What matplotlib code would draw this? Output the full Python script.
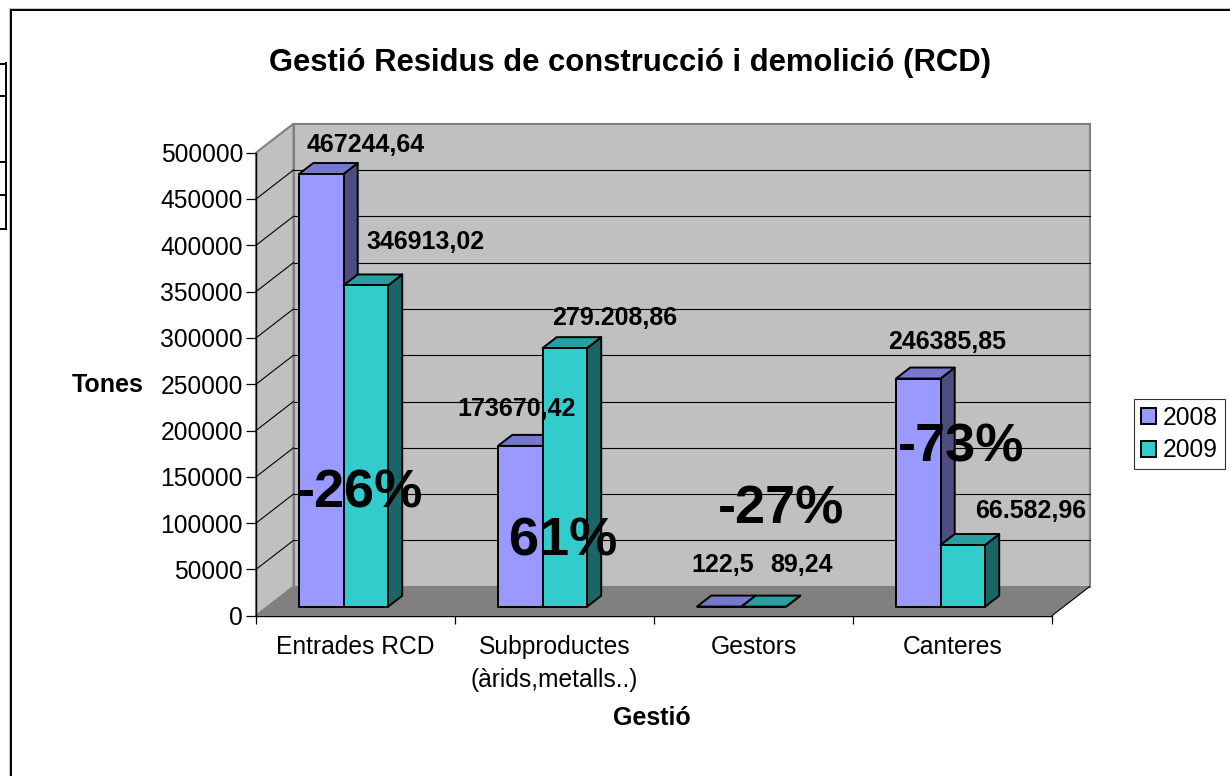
import matplotlib
matplotlib.use('Agg')
import matplotlib.pyplot as plt
from matplotlib.patches import Polygon, Patch
from matplotlib.lines import Line2D

plt.rcParams['font.family'] = ['Liberation Sans', 'DejaVu Sans']

# ---------------- data ----------------
categories = ['Entrades RCD', 'Subproductes\n(àrids,metalls..)', 'Gestors', 'Canteres']
series_names = ['2008', '2009']
values_2008 = [467244.64, 173670.42, 122.5, 246385.85]
values_2009 = [346913.02, 279208.86, 89.24, 66582.96]
labels_2008 = ['467244,64', '173670,42', '122,5', '246385,85']
labels_2009 = ['346913,02', '279.208,86', '89,24', '66.582,96']
change_labels = ['-26%', '61%', '-27%', '-73%']
y_ticks = [0, 50000, 100000, 150000, 200000, 250000, 300000, 350000, 400000, 450000, 500000]
title = 'Gestió Residus de construcció i demolició (RCD)'
y_title = 'Tones'
x_title = 'Gestió'

# ---------------- layout (pixels) ----------------
FW, FH = 1230, 776
AX_L, AX_R, AX_T, AX_B = 256, 1052, 152.7, 615.7
YMAX = 500000

fig = plt.figure(figsize=(FW / 100, FH / 100), dpi=100)
fig.patch.set_facecolor('white')
ax = fig.add_axes([AX_L / FW, (FH - AX_B) / FH, (AX_R - AX_L) / FW, (AX_B - AX_T) / FH])
ax.set_xlim(-0.5, len(categories) - 0.5)
ax.set_ylim(0, YMAX)
ax.patch.set_visible(False)

ux = (len(categories)) / (AX_R - AX_L)        # data x units per pixel
uy = YMAX / (AX_B - AX_T)                      # data y units per pixel
DX, DY = 37.5 * ux, 29 * uy                   # full depth offset
F0, F1 = 9 / 29, 20 / 29                      # bar depth range
W = 44.5 * ux
SHIFT = -12 * ux

x0, x1 = -0.5, len(categories) - 0.5
wall_c, floor_c, wall_edge = '#C0C0C0', '#808080', '#808080'

# back wall
ax.add_patch(Polygon([(x0 + DX, DY), (x1 + DX, DY), (x1 + DX, YMAX + DY), (x0 + DX, YMAX + DY)],
                     closed=True, facecolor=wall_c, edgecolor=wall_edge, lw=1.5, zorder=0, clip_on=False))
# side wall
ax.add_patch(Polygon([(x0, 0), (x0, YMAX), (x0 + DX, YMAX + DY), (x0 + DX, DY)],
                     closed=True, facecolor=wall_c, edgecolor=wall_edge, lw=1.5, zorder=0, clip_on=False))
# floor
ax.add_patch(Polygon([(x0, 0), (x1, 0), (x1 + DX, DY), (x0 + DX, DY)],
                     closed=True, facecolor=floor_c, edgecolor='none', zorder=0.5, clip_on=False))
ax.plot([x1, x1 + DX], [0, DY], color='black', lw=0.8, zorder=0.6, clip_on=False)

# gridlines
for v in y_ticks[1:-1]:
    ax.plot([x0 + DX, x1 + DX], [v + DY, v + DY], color='black', lw=0.8, zorder=1, clip_on=False)
    ax.plot([x0, x0 + DX], [v, v + DY], color='black', lw=0.8, zorder=1, clip_on=False)

# bars
styles = [
    dict(front='#9999FF', top='#7777CC', side='#4D4D80'),
    dict(front='#33CCCC', top='#289E9E', side='#1A6666'),
]
label_offsets = [
    [(44, 29), (-4, 37), (3, 42), (29, 37)],
    [(60, 43), (50, 30), (38, 42), (68, 34)],
]
all_values = [values_2008, values_2009]
all_labels = [labels_2008, labels_2009]
base = F0 * DY
ddx, ddy = (F1 - F0) * DX, (F1 - F0) * DY
z = 3
for i in range(len(categories)):
    for s in range(2):
        v = all_values[s][i]
        st = styles[s]
        xl = i + SHIFT - W + s * W
        xr = xl + W
        top = base + v
        ax.add_patch(Polygon([(xr, base), (xr, top), (xr + ddx, top + ddy), (xr + ddx, base + ddy)],
                             closed=True, facecolor=st['side'], edgecolor='black', lw=1.4,
                             joinstyle='round', zorder=z, clip_on=False))
        ax.add_patch(Polygon([(xl, top), (xr, top), (xr + ddx, top + ddy), (xl + ddx, top + ddy)],
                             closed=True, facecolor=st['top'], edgecolor='black', lw=1.4,
                             joinstyle='round', zorder=z, clip_on=False))
        ax.add_patch(Polygon([(xl, base), (xr, base), (xr, top), (xl, top)],
                             closed=True, facecolor=st['front'], edgecolor='black', lw=1.4,
                             joinstyle='round', zorder=z, clip_on=False))
        z += 1

for i in range(len(categories)):
    for s in range(2):
        v = all_values[s][i]
        xl = i + SHIFT - W + s * W
        ox, oy = label_offsets[s][i]
        ax.annotate(all_labels[s][i], xy=(xl + W / 2, base + v), xytext=(ox, oy),
                    textcoords='offset pixels', ha='center', va='center',
                    fontsize=18, fontweight='bold', color='black', zorder=20,
                    annotation_clip=False)

# percentage change labels
change_offsets = [(4.5, 122.7), (8.5, 73.7), (28, 105.7), (9, 168.7)]
for i, txt in enumerate(change_labels):
    ox, oy = change_offsets[i]
    ax.annotate(txt, xy=(i, 0), xytext=(ox, oy), textcoords='offset pixels',
                ha='center', va='center', fontsize=39, fontweight='bold', color='black',
                zorder=25, annotation_clip=False)

# axes styling
for sp in ['top', 'right']:
    ax.spines[sp].set_visible(False)
for sp in ['left', 'bottom']:
    ax.spines[sp].set_color('black')
    ax.spines[sp].set_linewidth(1.0)
    ax.spines[sp].set_zorder(2)
ax.set_yticks(y_ticks)
ax.set_yticklabels([str(t) for t in y_ticks])
ax.tick_params(axis='y', direction='out', length=7.2, width=0.9, pad=2.2, labelsize=17.7, colors='black')
ax.set_xticks(range(len(categories)))
ax.set_xticklabels(categories, linespacing=1.45)
ax.set_xticks([k - 0.5 for k in range(len(categories) + 1)], minor=True)
ax.tick_params(axis='x', which='major', length=0, pad=14, labelsize=17.7)
ax.tick_params(axis='x', which='minor', direction='out', length=6, width=0.9)

# titles
fig.text(630 / FW, 1 - 71 / FH, title, ha='center', va='baseline', fontsize=22.3, fontweight='bold')
fig.text(108 / FW, 1 - 385 / FH, y_title, ha='center', va='center', fontsize=18, fontweight='bold')
fig.text(652 / FW, 1 - 718 / FH, x_title, ha='center', va='center', fontsize=18, fontweight='bold')

# legend
handles = [Patch(facecolor=styles[0]['front'], edgecolor='black', lw=1.4, label=series_names[0]),
           Patch(facecolor=styles[1]['front'], edgecolor='black', lw=1.4, label=series_names[1])]
leg = fig.legend(handles=handles, loc='upper left', bbox_to_anchor=(1134 / FW, 1 - 399 / FH),
                 fontsize=17.7, frameon=True, fancybox=False, shadow=False, borderaxespad=0,
                 handlelength=0.6, handleheight=0.6, handletextpad=0.3, borderpad=0.28,
                 labelspacing=0.35)
leg.get_frame().set_edgecolor('black')
leg.get_frame().set_linewidth(0.8)

# chart area border & spreadsheet fragment
def fline(xs, ys, **kw):
    fig.add_artist(Line2D([x / FW for x in xs], [1 - y / FH for y in ys], transform=fig.transFigure, **kw))

fline([9, 1230], [8, 8], color='#C8C8C8', lw=0.8)
fline([8.5, 8.5], [8, 776], color='#C8C8C8', lw=0.8)
fline([10.5, 1230], [9.5, 9.5], color='black', lw=1.4)
fline([10.5, 10.5], [9.5, 776], color='black', lw=1.4)
fline([6, 6], [63, 229], color='black', lw=1.4)
for yy in [63.5, 96, 162, 195, 228.5]:
    fline([0, 6], [yy, yy], color='black', lw=1.4)

fig.savefig('out.png', dpi=100)
